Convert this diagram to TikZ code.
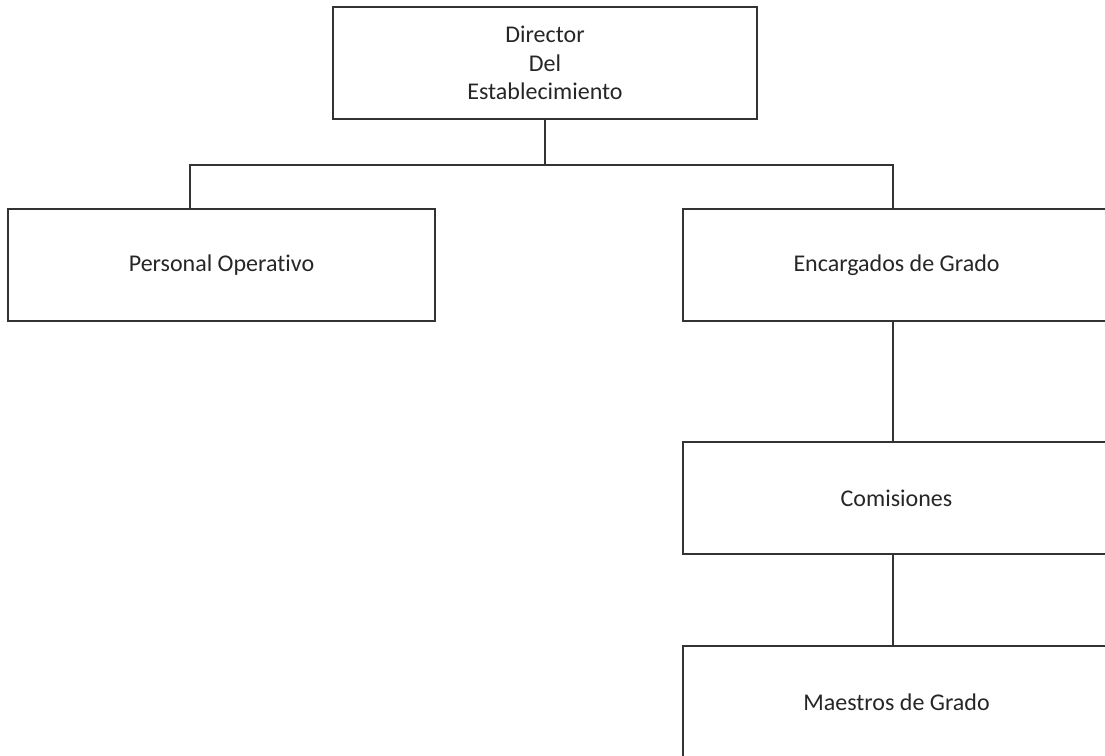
\documentclass[tikz,border=0pt]{standalone}
\usepackage{fontspec}
\setmainfont{Carlito}[Ligatures={NoCommon}]
\begin{document}
\begin{tikzpicture}[x=1pt,y=-1pt,
  box/.style={draw=black!80, line width=1.5pt, inner sep=0pt,
    minimum width=#1, minimum height=112pt, align=center,
    font=\fontsize{24}{28.5}\selectfont, text=black!85},
  link/.style={draw=black!80, line width=1.5pt}]
\useasboundingbox (0,0) rectangle (1105,755);
\clip (0,0) rectangle (1105,755);
\node[box=424pt] (dir) at (545,63) {Director\\Del\\Establecimiento};
\node[box=427pt] (pers) at (221.5,265) {Personal Operativo};
\node[box=427pt] (enc) at (896.5,265) {Encargados de Grado};
\node[box=427pt] (com) at (896.5,498) {Comisiones};
\node[box=427pt] (mae) at (896.5,702) {Maestros de Grado};
\coordinate (bus) at (545,165);
\coordinate (pl) at (190,165);
\coordinate (pr) at (893,165);
\draw[link] (dir.south) -- (bus);
\draw[link] (pers.north -| pl) -- (pl) -- (pr) -- (enc.north -| pr);
\draw[link] (enc.south -| pr) -- (com.north -| pr);
\draw[link] (com.south -| pr) -- (mae.north -| pr);
\end{tikzpicture}
\end{document}
